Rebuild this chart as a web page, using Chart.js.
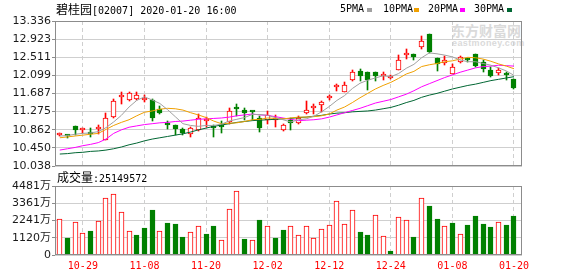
<!DOCTYPE html>
<html><head><meta charset="utf-8">
<script src="https://cdn.jsdelivr.net/npm/chart.js@4.4.1/dist/chart.umd.min.js"></script>
<style>
html,body{margin:0;padding:0;background:#fff;}
#wrap{position:relative;width:578px;height:276px;overflow:hidden;background:#fff;}
canvas{position:absolute;left:0;top:0;z-index:1;}
.t{position:absolute;z-index:2;white-space:nowrap;font-family:"DejaVu Sans Mono","Noto Sans CJK SC",monospace;font-size:10px;color:#000;line-height:12px;}
.cjk{font-family:"Noto Sans CJK SC";font-size:12px;}
.sq{position:absolute;z-index:2;width:5px;height:4px;}
.wm{position:absolute;z-index:0;white-space:nowrap;color:#dadada;}
</style></head><body>
<div id="wrap">
  <div class="wm" style="left:451px;top:22px;font-family:'Noto Sans CJK SC';font-weight:bold;font-size:14px;line-height:16px;">东方财富网</div>
  <div class="wm" style="left:452px;top:38px;font-family:'Liberation Sans';font-weight:bold;font-size:9px;line-height:10px;letter-spacing:0.4px;">eastmoney.com</div>
  <canvas id="price" width="578" height="276"></canvas>
  <canvas id="vol" width="578" height="276"></canvas>
  <div class="t" style="left:56px;top:3px"><span class="cjk">碧桂园</span>[02007] 2020-01-20 16:00</div>
  <div class="t" style="left:340px;top:3px">5PMA</div><div class="sq" style="left:367px;top:8px;background:#a0a0a0"></div>
  <div class="t" style="left:383px;top:3px">10PMA</div><div class="sq" style="left:414px;top:8px;background:#f0a000"></div>
  <div class="t" style="left:428px;top:3px">20PMA</div><div class="sq" style="left:460px;top:8px;background:#ff00ff"></div>
  <div class="t" style="left:474px;top:3px">30PMA</div><div class="sq" style="left:507px;top:8px;background:#006633"></div>
  <div class="t" style="left:57px;top:171px"><span class="cjk">成交量</span>:25149572</div>
</div>
<script>
// ---------- data ----------
const dates = ['10-24','10-25','10-28','10-29','10-30','10-31','11-01','11-04','11-05','11-06',
  '11-07','11-08','11-11','11-12','11-13','11-14','11-15','11-18','11-19','11-20',
  '11-21','11-22','11-25','11-26','11-27','11-28','11-29','12-02','12-03','12-04',
  '12-05','12-06','12-09','12-10','12-11','12-12','12-13','12-16','12-17','12-18',
  '12-19','12-20','12-23','12-24','12-27','12-30','12-31','01-02','01-03','01-06',
  '01-07','01-08','01-09','01-10','01-13','01-14','01-15','01-16','01-17','01-20'];
const dateTickLabels = ['10-29','11-08','11-20','12-02','12-12','12-24','01-08','01-20'];
const priceTickLabels = ['10.038','10.450','10.862','11.275','11.687','12.099','12.511','12.923','13.336'];
const volTickValues = [0,1120,2241,3361,4481];

const openP = [10.74,10.72,10.95,10.85,10.79,10.87,10.63,11.15,11.60,11.53,
  11.57,11.53,11.55,11.34,10.99,10.98,10.89,10.77,10.85,11.06,
  10.92,10.93,11.04,11.37,11.32,11.27,11.12,11.08,11.09,10.85,
  11.08,11.02,11.25,11.35,11.42,11.58,11.83,11.73,12.00,12.21,
  12.18,12.17,12.08,12.05,12.23,12.56,12.58,12.75,13.03,12.50,
  12.38,12.13,12.40,12.47,12.58,12.41,12.23,12.15,12.12,12.01];
const closeP = [10.76,10.71,10.85,10.87,10.77,10.92,11.14,11.51,11.63,11.70,
  11.65,11.58,11.14,11.25,10.97,10.87,10.79,10.91,11.14,11.08,
  10.90,10.92,11.28,11.34,11.25,11.26,10.91,11.20,11.10,10.98,
  11.02,11.14,11.32,11.37,11.49,11.63,11.84,11.87,12.18,12.08,
  12.00,12.08,12.13,12.06,12.45,12.57,12.52,12.88,12.62,12.35,
  12.45,12.29,12.52,12.45,12.32,12.25,12.09,12.23,12.11,11.82];
const highP = [10.78,10.75,10.95,10.90,10.90,10.96,11.25,11.57,11.72,11.72,
  11.72,11.66,11.56,11.40,11.06,10.98,10.90,10.92,11.22,11.16,
  10.96,11.06,11.35,11.45,11.35,11.29,11.17,11.29,11.20,10.99,
  11.12,11.17,11.52,11.44,11.52,11.65,11.91,11.94,12.23,12.25,
  12.18,12.18,12.18,12.10,12.57,12.71,12.59,13.00,13.04,12.50,
  12.55,12.35,12.55,12.50,12.58,12.45,12.28,12.27,12.18,12.02];
const lowP = [10.72,10.68,10.75,10.78,10.70,10.77,10.62,11.14,11.45,11.52,
  11.55,11.50,11.06,11.22,10.88,10.74,10.74,10.70,10.84,10.92,
  10.70,10.78,11.00,11.18,11.09,11.09,10.82,11.00,10.92,10.84,
  10.85,11.00,11.22,11.22,11.26,11.53,11.75,11.72,11.96,11.98,
  11.77,11.98,12.00,12.01,12.23,12.48,12.44,12.70,12.60,12.21,
  12.33,12.12,12.37,12.40,12.30,12.18,12.06,12.11,12.00,11.80];
const prevCloseBefore = 10.70;
const volume = [2339,1115,2164,1443,1574,2208,3716,3935,2798,1552,
  1312,1771,2951,1574,2098,2033,1180,1508,1880,1377,
  1902,962,2995,4175,1049,962,2295,1880,1115,1639,
  1880,1290,1880,1093,1683,1945,3519,2011,2929,1508,
  1312,2601,1224,284,2470,2273,1180,3716,3213,2361,
  1880,2098,1377,1967,2557,2033,1836,2164,1967,2515];
const ma5 = [10.72,10.73,10.76,10.78,10.79,10.82,10.91,11.04,11.19,11.38,
  11.53,11.61,11.54,11.46,11.32,11.16,11.00,10.96,10.94,10.96,
  10.96,10.99,11.06,11.10,11.14,11.21,11.21,11.19,11.14,11.09,
  11.04,11.09,11.11,11.17,11.27,11.39,11.53,11.64,11.80,11.92,
  11.99,12.04,12.09,12.07,12.14,12.26,12.35,12.50,12.61,12.59,
  12.56,12.52,12.45,12.41,12.41,12.37,12.33,12.27,12.20,12.10];
const ma10 = [10.68,10.70,10.72,10.74,10.76,10.78,10.87,10.96,11.03,11.09,
  11.18,11.26,11.29,11.33,11.35,11.34,11.31,11.25,11.20,11.14,
  11.06,11.00,11.01,11.02,11.05,11.09,11.10,11.13,11.12,11.11,
  11.13,11.15,11.15,11.16,11.18,11.22,11.31,11.38,11.48,11.59,
  11.69,11.79,11.87,11.94,12.03,12.13,12.19,12.30,12.34,12.37,
  12.41,12.43,12.47,12.51,12.50,12.47,12.42,12.36,12.31,12.25];
const ma20 = [10.40,10.43,10.46,10.50,10.53,10.57,10.65,10.78,10.86,10.92,
  10.95,10.98,11.00,11.02,11.03,11.05,11.06,11.08,11.10,11.11,
  11.12,11.13,11.15,11.18,11.20,11.22,11.20,11.19,11.16,11.13,
  11.10,11.07,11.08,11.09,11.11,11.15,11.20,11.25,11.30,11.35,
  11.41,11.47,11.51,11.55,11.61,11.67,11.75,11.84,11.91,11.98,
  12.05,12.11,12.17,12.22,12.27,12.30,12.31,12.33,12.32,12.31];
const ma30 = [10.31,10.32,10.34,10.35,10.37,10.38,10.40,10.43,10.47,10.52,
  10.56,10.61,10.65,10.68,10.71,10.74,10.77,10.81,10.86,10.90,
  10.94,10.97,11.00,11.03,11.05,11.07,11.08,11.09,11.10,11.11,
  11.12,11.14,11.15,11.17,11.19,11.22,11.24,11.25,11.27,11.28,
  11.29,11.31,11.34,11.37,11.42,11.48,11.53,11.60,11.65,11.69,
  11.74,11.79,11.83,11.87,11.90,11.94,11.98,12.01,12.04,12.07];

// ---------- styling ----------
const RED = '#ff0000', GREEN = '#008000';
const tickIdx = dateTickLabels.map(d => dates.indexOf(d));
const up = closeP.map((c, i) => c >= openP[i]);
const volUp = closeP.map((c, i) => c >= (i ? closeP[i - 1] : prevCloseBefore));
const X_MIN = -0.62, X_MAX = 60.04;
const AXIS_W = 55, RIGHT_PAD = 56;

const framePlugin = {
  id: 'frame',
  afterDraw(chart) {
    const a = chart.chartArea, ctx = chart.ctx;
    ctx.save();
    ctx.strokeStyle = '#8c8c8c';
    ctx.lineWidth = 1;
    ctx.strokeRect(Math.round(a.left) + 0.5, Math.round(a.top) + 0.5,
      Math.round(a.right - a.left) - 1, Math.round(a.bottom - a.top) - 1);
    ctx.restore();
  }
};
const snapPlugin = {
  id: 'snap',
  afterDatasetsUpdate(chart) {
    chart.data.datasets.forEach((ds, di) => {
      if (ds.type !== 'bar') return;
      chart.getDatasetMeta(di).data.forEach(el => {
        el.x = Math.floor(el.x) + 0.5;
        el.y = Math.round(el.y);
        el.base = Math.round(el.base);
      });
    });
  }
};

function xScale(showLabels) {
  return {
    type: 'linear', min: X_MIN, max: X_MAX, position: 'bottom', offset: false,
    afterBuildTicks: s => { s.ticks = tickIdx.map(v => ({ value: v })); },
    afterFit: s => { s.height = showLabels ? 21 : 0; },
    grid: { color: '#cfcfcf', lineWidth: 1, drawTicks: false, offset: false },
    border: { display: false, dash: [4, 3] },
    ticks: {
      display: showLabels, autoSkip: false, maxRotation: 0, padding: 5,
      color: RED, font: { family: "'DejaVu Sans Mono', monospace", size: 10 },
      callback: v => dates[v]
    }
  };
}
const yTickFont = { family: "'DejaVu Sans', 'Noto Sans CJK SC', sans-serif", size: 11 };

// ---------- price chart ----------
const idx = dates.map((d, i) => i);
new Chart(document.getElementById('price'), {
  type: 'bar',
  data: {
    datasets: [
      { type: 'line', label: '5PMA', data: idx.map(i => ({ x: i, y: ma5[i] })), borderColor: '#a0a0a0', borderWidth: 1, pointRadius: 0, tension: 0, order: 1 },
      { type: 'line', label: '10PMA', data: idx.map(i => ({ x: i, y: ma10[i] })), borderColor: '#f0a000', borderWidth: 1, pointRadius: 0, tension: 0, order: 1 },
      { type: 'line', label: '20PMA', data: idx.map(i => ({ x: i, y: ma20[i] })), borderColor: '#ff00ff', borderWidth: 1, pointRadius: 0, tension: 0, order: 1 },
      { type: 'line', label: '30PMA', data: idx.map(i => ({ x: i, y: ma30[i] })), borderColor: '#006633', borderWidth: 1, pointRadius: 0, tension: 0, order: 1 },
      { type: 'bar', label: 'body', data: idx.map(i => ({ x: i, y: [openP[i], closeP[i]] })),
        backgroundColor: idx.map(i => up[i] ? '#ffffff' : GREEN),
        borderColor: idx.map(i => up[i] ? RED : GREEN),
        borderWidth: 1, borderSkipped: false, barThickness: 5, minBarLength: 2, grouped: false, order: 2 },
      { type: 'bar', label: 'wick', data: idx.map(i => ({ x: i, y: [lowP[i], highP[i]] })),
        backgroundColor: idx.map(i => up[i] ? RED : GREEN),
        borderWidth: 0, barThickness: 1, grouped: false, order: 3 }
    ]
  },
  options: {
    responsive: false, animation: false, events: [],
    layout: { padding: { left: 0, top: 21, right: RIGHT_PAD, bottom: 110 } },
    plugins: { legend: { display: false }, tooltip: { enabled: false } },
    scales: {
      x: xScale(false),
      y: {
        type: 'linear', min: 10.038, max: 13.336, position: 'left',
        afterBuildTicks: s => { s.ticks = priceTickLabels.map(t => ({ value: parseFloat(t) })); },
        afterFit: s => { s.width = AXIS_W; },
        grid: { color: '#cfcfcf', lineWidth: 1, drawTicks: true, tickLength: 3, tickColor: '#8c8c8c' },
        border: { display: false },
        ticks: { color: '#1a1a1a', font: yTickFont, padding: 1, callback: (v, i) => priceTickLabels[i] }
      }
    }
  },
  plugins: [snapPlugin, framePlugin]
});

// ---------- volume chart ----------
new Chart(document.getElementById('vol'), {
  type: 'bar',
  data: {
    datasets: [
      { type: 'bar', label: '成交量', data: idx.map(i => ({ x: i, y: volume[i] })),
        backgroundColor: idx.map(i => volUp[i] ? '#ffffff' : GREEN),
        borderColor: idx.map(i => volUp[i] ? RED : GREEN),
        borderWidth: 1, borderSkipped: false, barThickness: 5, grouped: false }
    ]
  },
  options: {
    responsive: false, animation: false, events: [],
    layout: { padding: { left: 0, top: 186, right: RIGHT_PAD, bottom: 0 } },
    plugins: { legend: { display: false }, tooltip: { enabled: false } },
    scales: {
      x: xScale(true),
      y: {
        type: 'linear', min: 0, max: 4481, position: 'left',
        afterBuildTicks: s => { s.ticks = volTickValues.map(v => ({ value: v })); },
        afterFit: s => { s.width = AXIS_W; },
        grid: { color: '#cfcfcf', lineWidth: 1, drawTicks: true, tickLength: 3, tickColor: '#8c8c8c' },
        border: { display: false },
        ticks: { color: '#1a1a1a', font: yTickFont, padding: 1, callback: v => v === 0 ? '0' : v + '万' }
      }
    }
  },
  plugins: [snapPlugin, framePlugin]
});
</script>
</body></html>
